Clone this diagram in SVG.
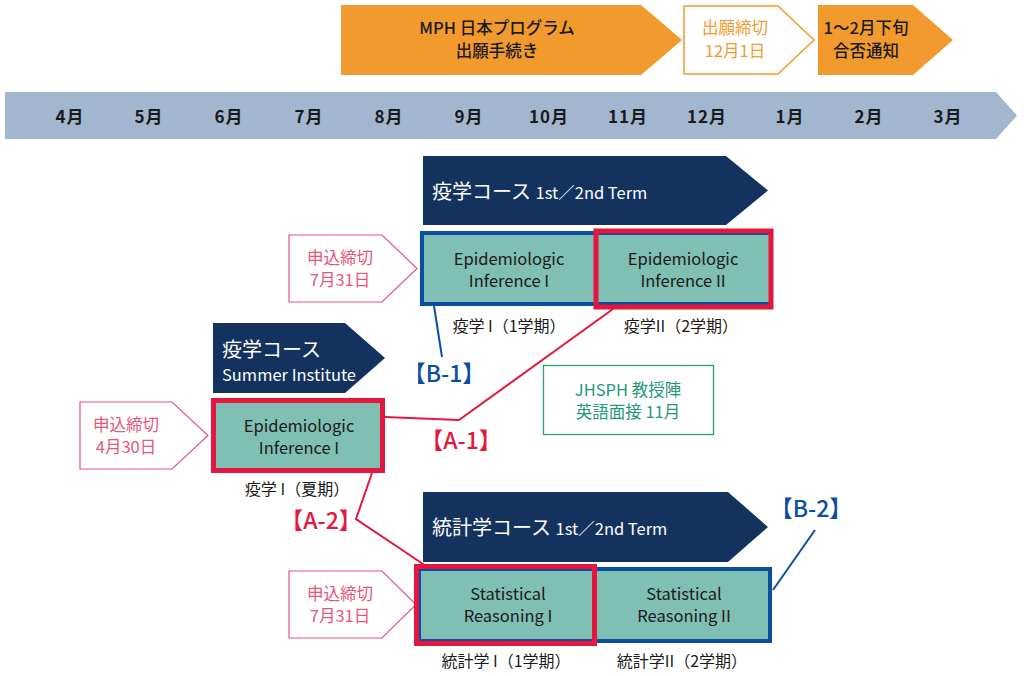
<svg xmlns="http://www.w3.org/2000/svg" width="1024" height="676" viewBox="0 0 1024 676">
<style>
text{font-family:"Noto Sans CJK JP","Noto Sans",sans-serif;text-anchor:middle}
.dk{fill:#1a1a1a;font-size:16.5px;font-weight:500}
.mo{fill:#1a1a1a;font-size:17px;font-weight:600;letter-spacing:1px}
.or{fill:#f29a2e;font-size:16.5px}
.wh{fill:#fff;text-anchor:start}
.pk{fill:#e8557a;font-size:16.5px}
.bx{fill:#1a1a1a;font-size:16.5px}
.lb{fill:#1a1a1a;font-size:16px}
.red{fill:#e5173f;font-size:23px;font-weight:500}
.blu{fill:#0a4ea2;font-size:23px;font-weight:500}
.gr{fill:#23987a;font-size:16.5px}
.teal{fill:#80bfb3}
.call{fill:#fff;stroke:#e8557a;stroke-width:1.2}
.navy{fill:#14325e}
</style>
<g id="top-apply">
<polygon points="341,5 641,5 682,40 641,75 341,75" fill="#f29a2e"/>
<text class="dk" x="497" y="34">MPH 日本プログラム</text>
<text class="dk" x="497" y="57">出願手続き</text>
</g>
<g id="top-deadline">
<polygon points="684,6 778,6 814,40 778,74 684,74" fill="#fff" stroke="#f29a2e" stroke-width="1.5"/>
<text class="or" x="735" y="34">出願締切</text>
<text class="or" x="735" y="57">12月1日</text>
</g>
<g id="top-result">
<polygon points="818,5 913,5 953,40 913,75 818,75" fill="#f29a2e"/>
<text class="dk" x="866" y="34">1〜2月下旬</text>
<text class="dk" x="866" y="57">合否通知</text>
</g>
<g id="timeline">
<polygon points="5,92 996,92 1017,115.5 996,139 5,139" fill="#a3b6cf"/>
<text class="mo" x="70" y="123">4月</text>
<text class="mo" x="149" y="123">5月</text>
<text class="mo" x="229" y="123">6月</text>
<text class="mo" x="309" y="123">7月</text>
<text class="mo" x="389" y="123">8月</text>
<text class="mo" x="469" y="123">9月</text>
<text class="mo" x="549" y="123">10月</text>
<text class="mo" x="628" y="123">11月</text>
<text class="mo" x="707" y="123">12月</text>
<text class="mo" x="790" y="123">1月</text>
<text class="mo" x="869" y="123">2月</text>
<text class="mo" x="948" y="123">3月</text>
</g>
<g id="connectors" fill="none" stroke-width="2">
<polyline points="434,306 442,357" stroke="#0a4ea2"/>
<polyline points="385,417 459,420 613,309" stroke="#e5173f"/>
<polyline points="372,473 356,519 432,570" stroke="#e5173f"/>
<polyline points="773,590 815,530" stroke="#0a4ea2"/>
</g>
<g id="epi-course">
<polygon class="navy" points="423,156 726,156 768,190.5 726,225 423,225"/>
<text class="wh" x="432" y="199" font-size="20">疫学コース <tspan font-size="16.5">1st／2nd Term</tspan></text>
</g>
<g id="epi-deadline">
<polygon class="call" points="289,235 382,235 417,268.5 382,302 289,302"/>
<text class="pk" x="340" y="264">申込締切</text>
<text class="pk" x="340" y="286">7月31日</text>
</g>
<g id="epi-terms">
<rect class="teal" x="422" y="233" width="349" height="71" stroke="#0a4ea2" stroke-width="4"/>
<rect x="596" y="231" width="175" height="76" fill="none" stroke="#e5173f" stroke-width="5"/>
<text class="bx" x="509" y="265">Epidemiologic</text>
<text class="bx" x="509" y="287">Inference I</text>
<text class="bx" x="683" y="265">Epidemiologic</text>
<text class="bx" x="683" y="287">Inference II</text>
<text class="lb" x="509" y="332">疫学 I（1学期）</text>
<text class="lb" x="681" y="332">疫学II（2学期）</text>
</g>
<g id="label-b1"><text class="blu" x="444" y="382">【B-1】</text></g>
<g id="summer-course">
<polygon class="navy" points="213,323 345,323 385,358 345,393 213,393"/>
<text class="wh" x="222" y="357" font-size="20">疫学コース</text>
<text class="wh" x="222" y="381" font-size="16.5">Summer Institute</text>
</g>
<g id="summer-deadline">
<polygon class="call" points="80,402 172,402 208,435.5 172,469 80,469"/>
<text class="pk" x="126" y="431">申込締切</text>
<text class="pk" x="126" y="453">4月30日</text>
</g>
<g id="summer-term">
<rect class="teal" x="213.5" y="400.5" width="169" height="70" stroke="#e5173f" stroke-width="5"/>
<text class="bx" x="299" y="432">Epidemiologic</text>
<text class="bx" x="299" y="454">Inference I</text>
<text class="lb" x="297" y="495">疫学 I（夏期）</text>
</g>
<g id="label-a1"><text class="red" x="461" y="449">【A-1】</text></g>
<g id="interview">
<rect x="543.5" y="365.5" width="170" height="69" fill="#fff" stroke="#2f9b7f" stroke-width="1.3"/>
<text class="gr" x="628" y="396">JHSPH 教授陣</text>
<text class="gr" x="628" y="418">英語面接 11月</text>
</g>
<g id="label-a2"><text class="red" x="321" y="529">【A-2】</text></g>
<g id="stat-course">
<polygon class="navy" points="423,492 728,492 768,527 728,562 423,562"/>
<text class="wh" x="432" y="535" font-size="20">統計学コース <tspan font-size="16.5">1st／2nd Term</tspan></text>
</g>
<g id="label-b2"><text class="blu" x="811" y="517">【B-2】</text></g>
<g id="stat-deadline">
<polygon class="call" points="289,571 382,571 416,604.5 382,638 289,638"/>
<text class="pk" x="340" y="600">申込締切</text>
<text class="pk" x="340" y="622">7月31日</text>
</g>
<g id="stat-terms">
<rect class="teal" x="419" y="569" width="351" height="72" stroke="#0a4ea2" stroke-width="4"/>
<rect x="416.5" y="566.5" width="178" height="77" fill="none" stroke="#e5173f" stroke-width="5"/>
<text class="bx" x="508" y="600">Statistical</text>
<text class="bx" x="508" y="622">Reasoning I</text>
<text class="bx" x="684" y="600">Statistical</text>
<text class="bx" x="684" y="622">Reasoning II</text>
<text class="lb" x="506" y="667">統計学 I（1学期）</text>
<text class="lb" x="682" y="667">統計学II（2学期）</text>
</g>
</svg>
